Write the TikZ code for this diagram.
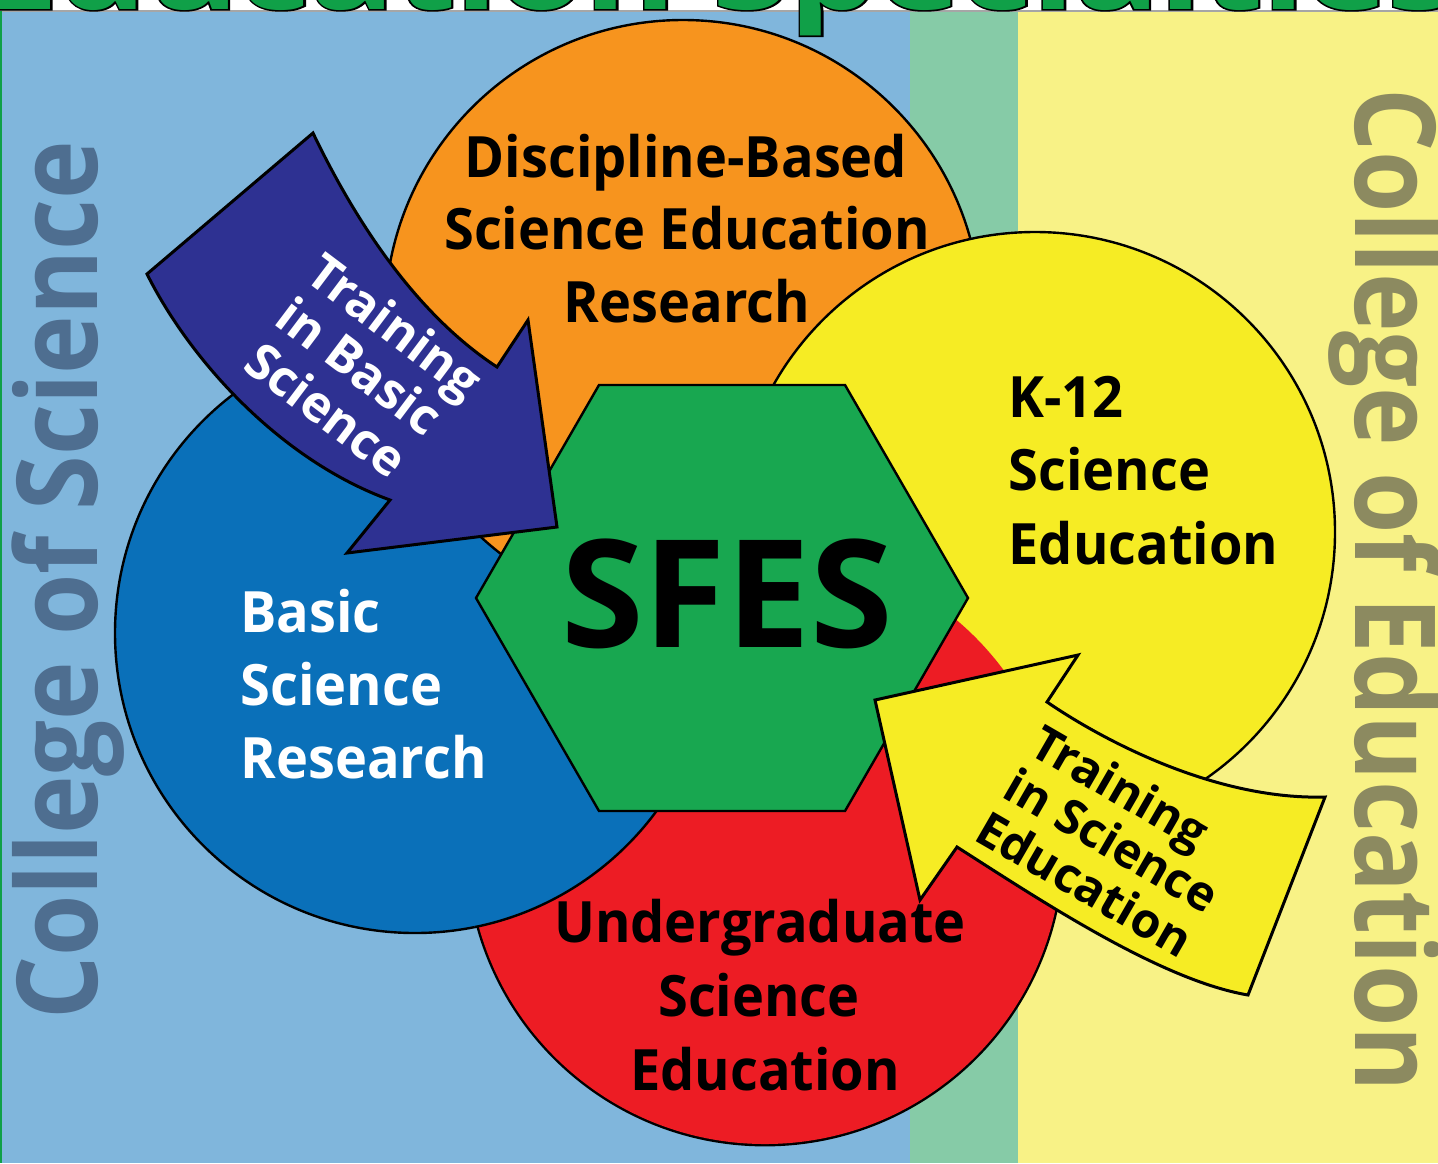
\documentclass[tikz,border=0pt]{standalone}
\usepackage{fontspec}
\setmainfont{Open Sans}
\newfontfamily\lblfont{Open Sans}[FakeStretch=0.95]
\newfontfamily\titleshfont{Open Sans}[FakeBold=3]
\definecolor{bgblue}{RGB}{128,182,220}
\definecolor{bggreen}{RGB}{134,203,167}
\definecolor{bgyellow}{RGB}{248,242,134}
\definecolor{corange}{RGB}{247,148,30}
\definecolor{cyellow}{RGB}{246,236,36}
\definecolor{cblue}{RGB}{10,112,185}
\definecolor{cred}{RGB}{237,28,36}
\definecolor{hexgreen}{RGB}{24,167,80}
\definecolor{navy}{RGB}{46,49,146}
\definecolor{sciblue}{RGB}{78,110,144}
\definecolor{eduolive}{RGB}{140,138,96}
\definecolor{titlegreen}{RGB}{16,160,72}
\tikzset{
  outl/.style={draw=black, line width=1.2pt},
  arrowshape/.style={draw=black, line width=1.5pt, line join=miter},
  lbl/.style={font=\lblfont\bfseries\fontsize{28.5}{34}\selectfont, inner sep=0pt},
  arrtxt/.style={font=\bfseries\fontsize{24}{28}\selectfont, inner sep=0pt, anchor=base west},
  sidetxt/.style={font=\bfseries\fontsize{56}{60}\selectfont, inner sep=0pt, anchor=base west},
  titletxt/.style={font=\bfseries\fontsize{55}{60}\selectfont, inner sep=0pt, anchor=base}
}
\begin{document}
\begin{tikzpicture}[x=0.5pt,y=-0.5pt]
\useasboundingbox (0,0) rectangle (1438,1163);
\clip (0,0) rectangle (1438,1163);
% backgrounds
\fill[white] (0,0) rectangle (1438,11);
\fill[bgblue] (0,11) rectangle (910,1163);
\fill[bggreen] (910,11) rectangle (1018,1163);
\fill[bgyellow] (1018,11) rectangle (1438,1163);
\draw[black!35, line width=1pt] (0,11) -- (1438,11);
\fill[titlegreen] (0,11) rectangle (2,1163);
% title (cut off at top)
\node[titletxt, text=titlegreen] (title) at (719,9)
  {\scalebox{1.27}[1]{\rlap{\color{black}\titleshfont\bfseries Education Specialties}Education Specialties}};
% side labels
\node[sidetxt, text=sciblue, rotate=90] (cos) at (97,1020) {\scalebox{0.885}[1]{College of Science}};
\node[sidetxt, text=eduolive, rotate=-90] (coe) at (1355,88) {\scalebox{0.885}[1]{College of Education}};
% circles
\filldraw[fill=cblue, outl] (415,633) circle (300);
\filldraw[fill=corange, outl] (683,318) circle (298);
\draw[draw=black, line width=2.4pt] (765,847) circle (297);
\filldraw[fill=cyellow, outl] (1035,532) circle (300);
\fill[cred] (765,847) circle (297);
\begin{scope}
  \clip (765,847) circle (301);
  \filldraw[fill=cblue, outl] (415,633) circle (300);
\end{scope}
% hexagon
\filldraw[fill=hexgreen, outl] (968,598) -- (845,385) -- (599,385) -- (476,598) -- (599,811) -- (845,811) -- cycle;
\node[font=\bfseries\fontsize{75}{80}\selectfont, inner sep=0pt, anchor=base] (sfes) at (727,647) {SFES};
% blue arrow
\filldraw[fill=navy, arrowshape] (147,274) -- (313,133) .. controls (350,210) and (410,310) .. (497,367)
  -- (528,320) -- (557,527) -- (347,553) -- (390,500) .. controls (280,460) and (190,360) .. (147,274) -- cycle;
% yellow arrow
\filldraw[fill=cyellow, arrowshape] (875,700) -- (1078,655) -- (1047,702) .. controls (1110,745) and (1220,800) .. (1325,797)
  -- (1248,995) .. controls (1160,980) and (1040,900) .. (957,847) -- (920,900) -- cycle;
% circle labels
\node[lbl, anchor=base] (dbr1) at (686,177) {Discipline-Based};
\node[lbl, anchor=base] (dbr2) at (687,249) {Science Education};
\node[lbl, anchor=base] (dbr3) at (687,322) {Research};
\node[lbl, anchor=base west] (k1) at (1008,417) {K-12};
\node[lbl, anchor=base west] (k2) at (1008,490) {Science};
\node[lbl, anchor=base west] (k3) at (1008,564) {Education};
\node[lbl, anchor=base west, text=white] (b1) at (240,632) {Basic};
\node[lbl, anchor=base west, text=white] (b2) at (240,705) {Science};
\node[lbl, anchor=base west, text=white] (b3) at (240,778) {Research};
\node[lbl, anchor=base] (u1) at (760,942) {Undergraduate};
\node[lbl, anchor=base] (u2) at (759,1016) {Science};
\node[lbl, anchor=base] (u3) at (765,1090) {Education};
% arrow labels
\node[arrtxt, text=white, rotate=-37, font=\bfseries\fontsize{25}{29}\selectfont] (ta1) at (303,279) {Training};
\node[arrtxt, text=white, rotate=-37, font=\bfseries\fontsize{25}{29}\selectfont] (ta2) at (272,323) {in Basic};
\node[arrtxt, text=white, rotate=-37, font=\bfseries\fontsize{25}{29}\selectfont] (ta3) at (241,368) {Science};
\node[arrtxt, rotate=-30] (tb1) at (1027,753) {Training};
\node[arrtxt, rotate=-30] (tb2) at (1000,796) {in Science};
\node[arrtxt, rotate=-30] (tb3) at (972,839) {Education};
\end{tikzpicture}
\end{document}
